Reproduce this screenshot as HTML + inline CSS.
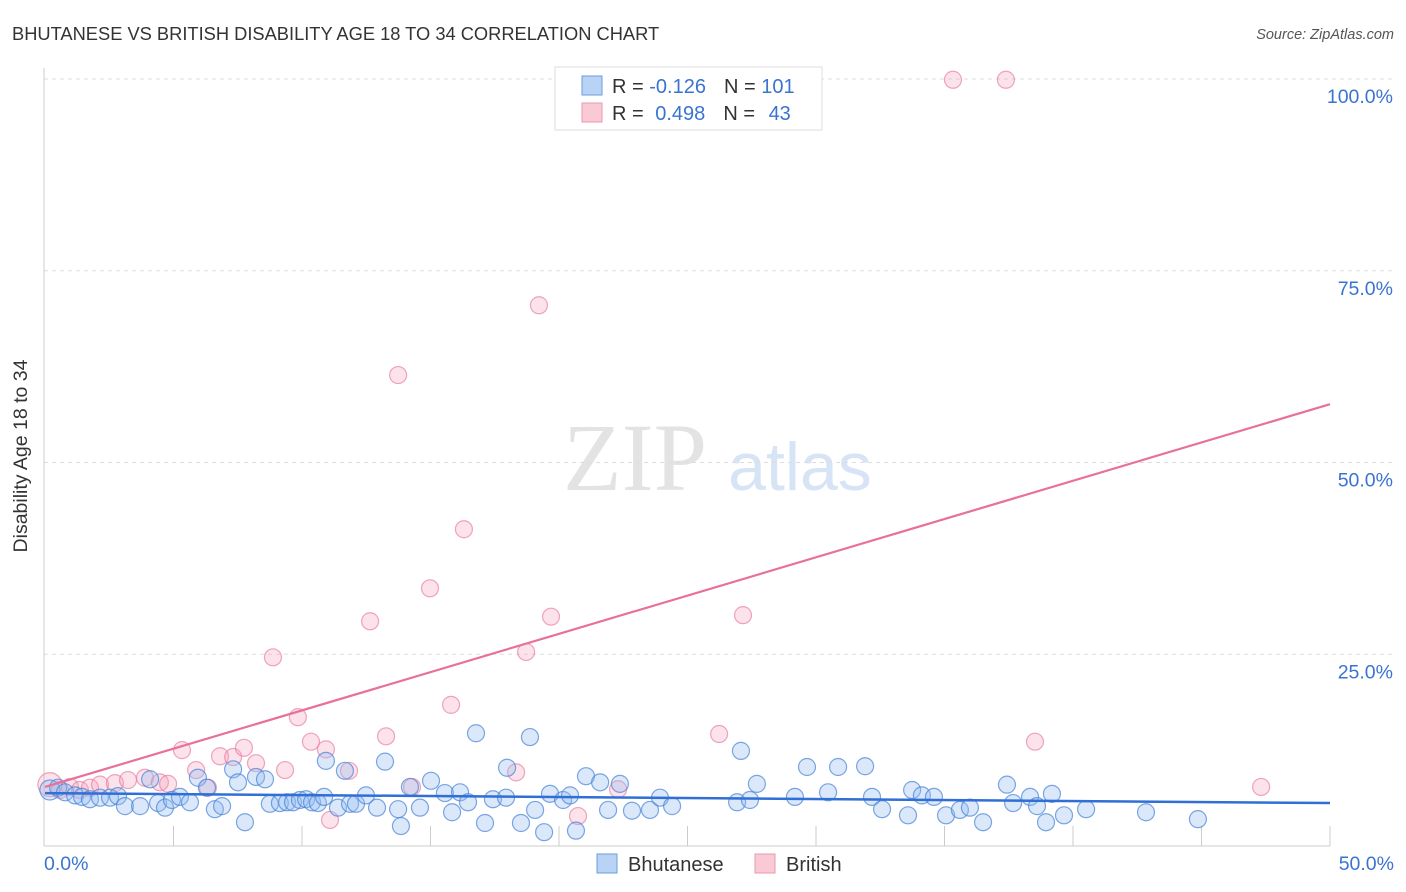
<!DOCTYPE html>
<html><head><meta charset="utf-8"><style>
body{margin:0;background:#fff;font-family:"Liberation Sans",sans-serif;}
svg{display:block}
</style></head><body>
<svg id="chart" width="1406" height="892">
<text x="12" y="40" font-size="18.3" fill="#333">BHUTANESE VS BRITISH DISABILITY AGE 18 TO 34 CORRELATION CHART</text>
<text x="1394" y="39" font-size="14.5" fill="#555" text-anchor="end" font-style="italic">Source: ZipAtlas.com</text>
<text x="27" y="456" font-size="19.5" fill="#333" text-anchor="middle" transform="rotate(-90 27 456)">Disability Age 18 to 34</text>
<text x="635" y="490" font-size="96" fill="#e3e3e3" font-family="Liberation Serif,serif" text-anchor="middle">ZIP</text>
<text x="800" y="490" font-size="68" fill="#d6e4f6" text-anchor="middle">atlas</text>
<g id="grid"></g><g id="axes"></g><g id="pts"></g><g id="trends"></g>
<g>
<rect x="555" y="67" width="267" height="63" fill="#fff" stroke="#ddd"/>
<rect x="582" y="76" width="20" height="19" fill="#b9d3f5" stroke="#6a9ee0"/>
<rect x="582" y="103" width="20" height="19" fill="#f9c9d6" stroke="#e999b2"/>
<text x="612" y="93" font-size="20" fill="#333">R = <tspan fill="#3a74d0">-0.126</tspan><tspan dx="18">N = </tspan><tspan fill="#3a74d0">101</tspan></text>
<text x="612" y="120" font-size="20" fill="#333">R = <tspan dx="6" fill="#3a74d0">0.498</tspan><tspan dx="18">N = </tspan><tspan dx="8" fill="#3a74d0">43</tspan></text>
</g>
<g>
<rect x="597" y="854" width="20" height="19" fill="#b9d3f5" stroke="#6a9ee0"/>
<text x="628" y="871" font-size="20" fill="#333">Bhutanese</text>
<rect x="755" y="854" width="20" height="19" fill="#f9c9d6" stroke="#e999b2"/>
<text x="786" y="871" font-size="20" fill="#333">British</text>
</g>
</svg>
<script>
const blueX=[0.19,0.51,0.78,1.17,1.44,1.75,2.14,2.53,2.84,3.11,3.70,4.09,4.40,4.67,4.94,5.25,5.64,5.95,6.30,6.61,6.89,7.32,7.51,7.78,8.21,8.56,8.75,9.14,9.42,9.65,9.92,10.16,10.39,10.62,10.86,10.93,11.40,11.67,11.87,12.10,12.49,12.92,13.23,13.74,13.85,14.20,14.59,15.02,15.56,15.84,16.15,16.46,16.77,17.12,17.43,17.94,17.98,18.52,18.87,19.07,19.42,19.65,20.16,20.43,20.66,21.05,21.60,21.91,22.37,22.84,23.54,23.93,24.40,26.93,27.08,27.43,27.70,29.18,29.65,30.47,30.86,31.91,32.18,32.57,33.58,33.74,34.12,34.59,35.06,35.60,35.99,36.50,37.43,37.67,38.33,38.60,38.95,39.18,39.65,40.51,42.84,44.86];
const blueY=[7.3,7.6,7.0,6.6,6.4,6.1,6.3,6.3,6.5,5.2,5.2,8.7,5.6,5.0,6.0,6.4,5.7,8.9,7.6,4.8,5.2,10.0,8.3,3.1,9.0,8.7,5.5,5.6,5.7,5.7,6.0,6.1,5.7,5.6,6.4,11.1,5.0,9.8,5.5,5.5,6.6,5.0,11.0,4.8,2.6,7.7,5.0,8.5,6.9,4.4,7.0,5.7,14.7,3.0,6.1,6.3,10.2,3.0,14.2,4.7,1.8,6.8,6.0,6.6,2.0,9.1,8.3,4.7,8.1,4.6,4.7,6.3,5.2,5.7,12.4,6.0,8.1,6.4,10.3,7.0,10.3,10.4,6.4,4.8,4.0,7.3,6.6,6.4,4.0,4.7,5.0,3.1,8.0,5.6,6.4,5.2,3.1,6.8,4.0,4.8,4.4,3.5];
const pinkX=[0.19,0.58,0.97,1.36,1.75,2.14,2.72,3.23,3.89,4.47,4.79,5.33,5.88,6.34,6.81,7.32,7.74,8.21,8.87,9.34,9.84,10.35,10.93,11.09,11.83,12.65,13.27,13.74,14.28,14.98,15.80,16.30,18.33,18.72,19.22,19.69,20.74,22.30,26.23,27.16,35.33,37.39,38.52,47.32];
const pinkY=[8.0,7.3,7.7,7.3,7.6,8.0,8.2,8.6,8.9,8.3,8.1,12.5,9.9,7.6,11.7,11.6,12.8,10.8,24.6,9.9,16.8,13.6,12.6,3.4,9.8,29.3,14.3,61.4,7.7,33.6,18.4,41.3,9.6,25.3,70.5,29.9,3.9,7.4,14.6,30.1,99.9,99.9,13.6,7.7];
const blueTrend=[6.9,5.6];
const pinkTrend=[7.7,57.6];
const yTicks=[25,50,75,100];
const yTickLabels=["25.0%","50.0%","75.0%","100.0%"];
const xTicks=[0,5,10,15,20,25,30,35,40,45,50];

const NS="http://www.w3.org/2000/svg";
const sx=v=>45+v*25.7, sy=v=>846-v*7.67;
function mk(parent,tag,attrs){const e=document.createElementNS(NS,tag);for(const k in attrs)e.setAttribute(k,attrs[k]);document.getElementById(parent).appendChild(e);return e;}
yTicks.forEach((t,i)=>{
  const l=mk('grid','line',{x1:44,x2:1393,y1:sy(t),y2:sy(t),stroke:'#ddd','stroke-dasharray':'4 4'});
  
  
  const tx=mk('grid','text',{x:1393,y:sy(t)+24,'font-size':19.5,fill:'#3a74d0','text-anchor':'end'});
  tx.textContent=yTickLabels[i];
  
  
});
let a=mk('axes','line',{x1:44,x2:44,y1:68,y2:846,stroke:'#ccc'});


a=mk('axes','line',{x1:44,x2:1330,y1:846,y2:846,stroke:'#ccc'});


xTicks.forEach(t=>{if(t===0)return;
  const l=mk('axes','line',{x1:sx(t),x2:sx(t),y1:826,y2:846,stroke:'#ccc'});
  
  
});
let t0=mk('axes','text',{x:44,y:870,'font-size':19.5,fill:'#3a74d0'});t0.textContent='0.0%';


let t1=mk('axes','text',{x:1394,y:870,'font-size':19.5,fill:'#3a74d0','text-anchor':'end'});t1.textContent='50.0%';


pinkX.forEach((x,i)=>{
  const c=mk('pts','circle',{cx:sx(x),cy:sy(pinkY[i]),r:i===0?12:8.5,fill:'rgba(244,160,185,0.3)',stroke:'rgba(230,120,155,0.65)','stroke-width':1.2});
  
  
});
blueX.forEach((x,i)=>{
  const c=mk('pts','circle',{cx:sx(x),cy:sy(blueY[i]),r:i===0?10:8.5,fill:'rgba(150,190,240,0.35)',stroke:'rgba(70,130,215,0.7)','stroke-width':1.2});
  
  
});
let bl=mk('trends','line',{x1:sx(0),x2:sx(50),y1:sy(blueTrend[0]),y2:sy(blueTrend[1]),stroke:'#2f6fd6','stroke-width':2.5});


let pl=mk('trends','line',{x1:sx(0),x2:sx(50),y1:sy(pinkTrend[0]),y2:sy(pinkTrend[1]),stroke:'#e8709a','stroke-width':2.2});


</script>
</body></html>
